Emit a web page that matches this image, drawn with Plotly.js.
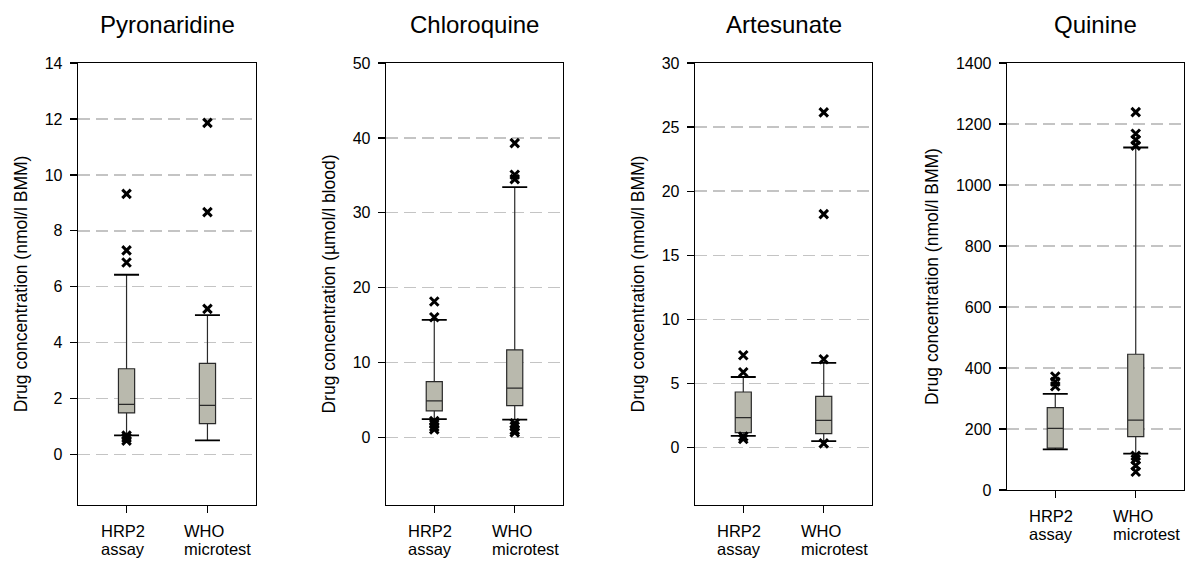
<!DOCTYPE html>
<html>
<head>
<meta charset="utf-8">
<script src="https://cdn.plot.ly/plotly-3.0.1.min.js"></script>
<style>html,body{margin:0;padding:0;background:#fff;}#chart{width:1200px;height:585px;}</style>
</head>
<body>
<div id="chart"></div>
<script>
// ---- data ----
const drugs = ['Pyronaridine', 'Chloroquine', 'Artesunate', 'Quinine'];
const yTitles = [
  'Drug concentration (nmol/l BMM)',
  'Drug concentration (µmol/l blood)',
  'Drug concentration (nmol/l BMM)',
  'Drug concentration (nmol/l BMM)'
];
const methodLine1 = ['HRP2', 'WHO'];
const methodLine2 = ['assay', 'microtest'];
const yRanges = [[-1.8, 14], [-9, 50], [-4.5, 30], [0, 1400]];
const yDticks = [2, 10, 5, 200];

// order: Pyr HRP2, Pyr WHO, CQ HRP2, CQ WHO, ART HRP2, ART WHO, QN HRP2, QN WHO
const lowerWhisker = [0.69, 0.51, 2.45, 2.40, 0.89, 0.49, 133, 119];
const q1Values     = [1.49, 1.11, 3.56, 4.27, 1.15, 1.07, 137, 175];
const medianValues = [1.80, 1.76, 4.90, 6.59, 2.32, 2.11, 202, 229];
const q3Values     = [3.07, 3.26, 7.48, 11.71, 4.32, 3.98, 270, 445];
const upperWhisker = [6.43, 4.99, 15.72, 33.44, 5.49, 6.59, 315, 1123];
const outlierValues = [
  [9.32, 7.30, 6.87, 0.68, 0.60, 0.50],
  [11.86, 8.67, 5.21],
  [18.17, 16.07, 2.2, 1.8, 1.45, 1.1],
  [39.31, 35.08, 34.5, 1.9, 1.47, 1.0, 0.7],
  [7.19, 5.86, 0.85, 0.65],
  [26.15, 18.2, 6.88, 0.31],
  [372, 355, 340],
  [1239, 1168, 1148, 1129, 112, 100, 80, 60]
];

// ---- layout geometry (pixels of the 1200x585 page) ----
const W = 1200, H = 585;
const xPix = [[78, 256], [386, 563], [695, 872], [1007, 1184]];
const yTopPix = 63;
const yBottomPix = [505, 505, 505, 490];
const labelShift = [-27, -24];

const FONT = 'Liberation Sans, Arial, sans-serif';
const traces = [];
const layout = {
  width: W, height: H,
  margin: {l: 0, r: 0, t: 0, b: 0},
  paper_bgcolor: '#fff', plot_bgcolor: '#fff',
  showlegend: false,
  font: {family: FONT, color: '#000', size: 16},
  annotations: []
};

drugs.forEach((drug, i) => {
  const xa = 'x' + (i ? i + 1 : '');
  const ya = 'y' + (i ? i + 1 : '');
  for (let j = 0; j < 2; j++) {
    const k = i * 2 + j;
    traces.push({
      type: 'box', x: [j], xaxis: xa, yaxis: ya,
      q1: [q1Values[k]], median: [medianValues[k]], q3: [q3Values[k]],
      lowerfence: [lowerWhisker[k]], upperfence: [upperWhisker[k]],
      width: 0.2, whiskerwidth: 0, boxpoints: false,
      fillcolor: '#b9b9ad', line: {color: '#2a2a2a', width: 1.2},
      hoverinfo: 'skip'
    });
    traces.push({
      type: 'scatter', mode: 'markers', xaxis: xa, yaxis: ya,
      x: [j, j], y: [lowerWhisker[k], upperWhisker[k]],
      marker: {size: 1, color: 'rgba(0,0,0,0)'},
      error_y: {type: 'data', symmetric: false, array: [0, 0], arrayminus: [0, 0],
                width: 12.5, thickness: 1.8, color: '#000'},
      hoverinfo: 'skip'
    });
    traces.push({
      type: 'scatter', mode: 'markers', xaxis: xa, yaxis: ya,
      x: outlierValues[k].map(() => j), y: outlierValues[k],
      marker: {symbol: 'x-thin', size: 8.5, color: '#000', line: {width: 3, color: '#000'}},
      hoverinfo: 'skip'
    });
    // two-line, left-aligned category label under the tick
    [[methodLine1[j], 26], [methodLine2[j], 44]].forEach(([txt, dy]) => {
      layout.annotations.push({
        xref: xa, yref: 'paper', x: j, xshift: labelShift[j],
        y: 1 - (yBottomPix[i] + dy) / H,
        xanchor: 'left', yanchor: 'middle', align: 'left',
        text: txt, showarrow: false, borderpad: 0,
        font: {size: 16.5, family: FONT, color: '#000'}
      });
    });
  }
  const xd = [xPix[i][0] / W, xPix[i][1] / W];
  const yd = [1 - yBottomPix[i] / H, 1 - yTopPix / H];
  layout['xaxis' + (i ? i + 1 : '')] = {
    domain: xd, anchor: ya, range: [-0.6, 1.6],
    tickmode: 'array', tickvals: [0, 1], showticklabels: false,
    ticks: 'outside', ticklen: 7, tickwidth: 1.2, tickcolor: '#000',
    showline: true, linecolor: '#000', linewidth: 1.3, mirror: true,
    showgrid: false, zeroline: false, fixedrange: true
  };
  layout['yaxis' + (i ? i + 1 : '')] = {
    domain: yd, anchor: xa, range: yRanges[i],
    tick0: 0, dtick: yDticks[i],
    ticks: 'outside', ticklen: 7, tickwidth: 1.2, tickcolor: '#000',
    ticklabelstandoff: 4,
    showline: true, linecolor: '#000', linewidth: 1.3, mirror: true,
    showgrid: true, gridcolor: '#c4c4c4', gridwidth: 1.3, griddash: '12px,6px',
    zeroline: false, fixedrange: true,
    tickfont: {size: 16, family: FONT, color: '#000'},
    title: {text: yTitles[i], font: {size: 17.5, family: FONT, color: '#000'}, standoff: 12}
  };
  layout.annotations.push({
    xref: 'paper', yref: 'paper',
    x: (xd[0] + xd[1]) / 2, y: 1 - 25 / H,
    xanchor: 'center', yanchor: 'middle',
    text: drug, showarrow: false,
    font: {size: 24, family: FONT, color: '#000'}
  });
});

Plotly.newPlot('chart', traces, layout, {staticPlot: true, displayModeBar: false});
</script>
</body>
</html>
